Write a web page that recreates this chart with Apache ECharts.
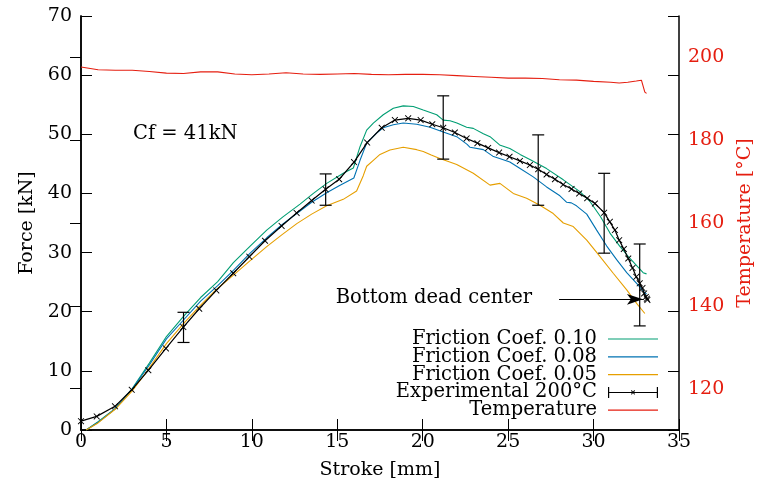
<!DOCTYPE html>
<html>
<head>
<meta charset="utf-8">
<script src="https://cdn.jsdelivr.net/npm/echarts@6/dist/echarts.min.js"></script>
<style>
html,body{margin:0;padding:0;background:#fff;}
#chart{width:763px;height:485px;}
</style>
</head>
<body>
<div id="chart"></div>
<script>
// ---- data (stroke [mm], value) ----
const xTicks = [0, 5, 10, 15, 20, 25, 30, 35];
const forceTicks = [0, 10, 20, 30, 40, 50, 60, 70];
const tempTicks = [120, 140, 160, 180, 200];

const coef010 = [[0.3,0],[1,1.4],[2,3.6],[3,7.0],[4,11.3],[5,15.8],[6,19.2],[7,22.4],[8,25.1],[8.92,28.3],[9.9,31.1],[10.87,33.8],[11.8,36.0],[12.82,38.2],[13.6,40.0],[14.38,41.7],[15.35,43.4],[15.94,44.3],[16.33,47.9],[16.72,50.7],[17.11,51.9],[17.69,53.3],[18.28,54.4],[18.86,54.8],[19.45,54.7],[20.03,54.1],[20.82,53.3],[21.2,52.4],[21.6,52.3],[22.0,51.9],[22.57,51.2],[22.96,51.0],[23.55,50.1],[23.94,49.6],[24.5,48.2],[25.1,47.6],[25.7,46.6],[26.3,45.7],[27.25,44.2],[28.23,42.3],[29.2,40.3],[29.8,38.6],[30.4,36.1],[30.96,33.3],[31.55,31.0],[32.13,29.0],[32.9,26.6],[33.1,26.4]];

const coef008 = [[0.3,0],[1,1.3],[2,3.6],[3,6.9],[4,11.0],[5,15.4],[6,18.6],[7,21.8],[8,24.4],[8.92,27.0],[9.9,29.9],[10.87,32.5],[11.8,34.8],[12.63,36.6],[13.5,38.5],[14.38,40.1],[15.11,41.3],[15.97,42.6],[16.33,45.6],[16.72,48.5],[17.3,50.2],[17.69,51.1],[18.28,51.6],[18.86,51.9],[19.65,51.7],[20.43,51.2],[21.2,50.4],[21.99,49.6],[22.6,48.3],[22.77,47.8],[23.55,47.4],[24.1,46.3],[24.5,45.9],[25.1,45.3],[25.7,44.2],[26.47,42.8],[27.25,41.1],[28.03,39.6],[28.43,38.5],[28.7,38.4],[29.0,37.9],[29.6,36.5],[30.18,33.8],[30.77,31.1],[31.35,28.8],[31.94,26.6],[32.52,24.8],[33.0,23.2],[33.1,23.0]];

const coef005 = [[0.3,0],[1,1.2],[2,3.5],[3,6.6],[4,10.5],[5,14.6],[6,18.0],[6.96,21.0],[7.94,23.8],[8.92,26.2],[9.85,28.5],[10.87,31.0],[11.75,33.0],[12.63,34.9],[13.5,36.5],[14.38,37.9],[15.35,39.0],[16.13,40.4],[16.52,43.0],[16.72,44.6],[17.11,45.6],[17.5,46.6],[18.08,47.35],[18.86,47.8],[19.65,47.4],[20.03,47.1],[20.5,46.5],[21.0,45.9],[21.5,45.4],[21.99,44.9],[22.96,43.4],[23.94,41.4],[24.52,41.7],[25.3,40.0],[26.08,39.2],[26.86,38.0],[27.64,36.6],[28.23,35.0],[28.81,34.4],[29.6,32.1],[30.38,29.3],[31.15,26.5],[31.94,23.7],[32.52,21.4],[33.0,19.7]];

const experimental = [[0.0,1.5],[0.92,2.3],[1.99,4.0],[2.97,6.8],[3.94,10.1],[4.97,13.8],[5.99,17.4],[6.92,20.5],[7.92,23.6],[8.91,26.5],[9.85,29.3],[10.77,32.0],[11.74,34.5],[12.62,36.7],[13.5,38.8],[14.32,40.7],[15.11,42.4],[15.98,45.3],[16.75,48.6],[17.6,51.1],[18.37,52.4],[19.15,52.7],[19.88,52.4],[20.56,51.7],[21.2,51.1],[21.88,50.3],[22.57,49.3],[23.2,48.5],[23.83,47.7],[24.47,46.9],[25.08,46.2],[25.69,45.5],[26.27,44.8],[26.76,44.1],[27.25,43.2],[27.74,42.4],[28.22,41.5],[28.71,40.75],[29.16,40.0],[29.63,39.2],[30.08,38.3],[30.62,36.75],[30.95,35.2],[31.25,33.8],[31.5,32.1],[31.77,30.6],[32.03,29.0],[32.28,27.4],[32.5,25.9],[32.7,24.8],[32.86,24.0],[32.96,23.1],[33.06,22.5],[33.12,22.2],[33.15,22.0]];

// error bars: [stroke, low, high]
const errorBars = [[6.0,14.8,19.9],[14.32,38.0,43.3],[21.2,45.8,56.5],[26.76,38.0,49.9],[30.62,29.9,43.4],[32.7,17.6,31.45]];

const temperature = [[0,197.7],[1,197.0],[2,196.9],[3,196.9],[4,196.6],[5,196.2],[6,196.1],[7,196.5],[8,196.5],[9,196.0],[10,195.8],[11,196.0],[12,196.3],[13,196.0],[14,195.9],[15,196.0],[16,196.1],[17,195.9],[18,195.8],[19,195.9],[20,195.9],[21,195.8],[22,195.6],[23,195.4],[24,195.2],[25,195.0],[26,195.0],[27,194.9],[28,194.6],[29,194.5],[30,194.2],[31,194.0],[31.5,193.8],[32,194.0],[32.5,194.3],[32.8,194.5],[33.0,191.6],[33.1,191.3]];

// annotation: bottom dead center arrow [start, end]
const bdcArrow = [[27.98,22.1],[32.89,22.1]];

const FONT = "'DejaVu Serif', serif";
const RED = '#e51e10';
const crossSymbol = 'path://M0,1 L1,0 L5,4 L9,0 L10,1 L6,5 L10,9 L9,10 L5,6 L1,10 L0,9 L4,5 Z';
const errIcon = 'path://M0,0H1.2V11H0Z M48.8,0H50V11H48.8Z M0,5H50V6H0Z M23,3.8L23.7,3.1L25,4.8L26.3,3.1L27,3.8L25.7,5.5L27,7.2L26.3,7.9L25,6.2L23.7,7.9L23,7.2L24.3,5.5Z';
const lineIcon = 'path://M0,0 M0,4.9H50V6.1H0Z M50,11';

const chart = echarts.init(document.getElementById('chart'));
const axisLineStyle = {color:'#000', width:1.5};
const tickStyle = {color:'#000', width:1};

chart.setOption({
  animation:false,
  backgroundColor:'#fff',
  textStyle:{fontFamily:FONT},
  grid:{left:81, right:84, top:16, bottom:55, containLabel:false},
  legend:{
    orient:'vertical', align:'right', right:105, top:329, padding:0,
    itemWidth:50, itemHeight:11, itemGap:-2.2,
    textStyle:{fontFamily:FONT, fontSize:19.5, color:'#000', padding:[0,6,0,0]},
    data:[
      {name:'Friction Coef. 0.10', icon:lineIcon},
      {name:'Friction Coef. 0.08', icon:lineIcon},
      {name:'Friction Coef. 0.05', icon:lineIcon},
      {name:'Experimental 200°C', icon:errIcon},
      {name:'Temperature', icon:lineIcon}
    ]
  },
  xAxis:[
    {type:'value', position:'bottom', min:0, max:35, interval:5,
     name:'Stroke [mm]', nameLocation:'middle', nameGap:31,
     nameTextStyle:{fontFamily:FONT, fontSize:19, color:'#000'},
     axisLine:{lineStyle:axisLineStyle}, axisTick:{inside:true, length:11, lineStyle:tickStyle},
     axisLabel:{fontFamily:FONT, fontSize:19, color:'#000', margin:3}, splitLine:{show:false}},
    {type:'value', position:'top', min:0, max:35, interval:5,
     axisLine:{lineStyle:axisLineStyle}, axisTick:{inside:true, length:11, lineStyle:tickStyle},
     axisLabel:{show:false}, splitLine:{show:false}}
  ],
  yAxis:[
    {type:'value', position:'left', min:0, max:70, interval:10,
     name:'Force [kN]', nameLocation:'middle', nameGap:44, nameRotate:90,
     nameTextStyle:{fontFamily:FONT, fontSize:19, color:'#000'},
     axisLine:{show:true, lineStyle:axisLineStyle}, axisTick:{show:true, inside:true, length:11, lineStyle:tickStyle},
     axisLabel:{fontFamily:FONT, fontSize:19, color:'#000', margin:9}, splitLine:{show:false}},
    {type:'value', position:'right', min:110, max:210,
     name:'Temperature [°C]', nameLocation:'middle', nameGap:57, nameRotate:90,
     nameTextStyle:{fontFamily:FONT, fontSize:19, color:RED},
     axisLine:{show:true, lineStyle:axisLineStyle},
     axisTick:{show:true, inside:true, length:11, lineStyle:tickStyle, customValues:tempTicks},
     axisLabel:{fontFamily:FONT, fontSize:19, color:RED, margin:9, customValues:tempTicks}, splitLine:{show:false}},
    {type:'value', position:'right', min:0, max:70, interval:10,
     axisLine:{show:true, lineStyle:axisLineStyle}, axisTick:{show:true, inside:true, length:11, lineStyle:tickStyle},
     axisLabel:{show:false}, splitLine:{show:false}}
  ],
  graphic:[
    {type:'text', left:133, top:124, style:{text:'Cf = 41kN', font:"19.5px 'DejaVu Serif'", fill:'#000'}},
    {type:'text', right:763-532, top:288, style:{text:'Bottom dead center', font:"19.5px 'DejaVu Serif'", fill:'#000'}}
  ],
  series:[
    {name:'Friction Coef. 0.10', type:'line', data:coef010, showSymbol:false, symbol:'none',
     lineStyle:{color:'#009e73', width:1.1}, itemStyle:{color:'#009e73'}},
    {name:'Friction Coef. 0.08', type:'line', data:coef008, showSymbol:false, symbol:'none',
     lineStyle:{color:'#0072b2', width:1.1}, itemStyle:{color:'#0072b2'}},
    {name:'Friction Coef. 0.05', type:'line', data:coef005, showSymbol:false, symbol:'none',
     lineStyle:{color:'#e69f00', width:1.1}, itemStyle:{color:'#e69f00'}},
    {name:'Experimental 200°C', type:'line', data:experimental, symbol:crossSymbol, symbolSize:6.5, showSymbol:true,
     lineStyle:{color:'#000', width:1.2}, itemStyle:{color:'#000'}, z:5,
     markLine:{silent:true, symbol:['none','arrow'], symbolSize:[8,16],
       lineStyle:{color:'#000', width:1, type:'solid'}, label:{show:false},
       data:[[{coord:bdcArrow[0]},{coord:bdcArrow[1]}]]}},
    {name:'Experimental 200°C', type:'custom', data:errorBars, z:6,
     encode:{x:0, y:[1,2]},
     renderItem:function(params, api){
       const x = api.value(0);
       const lo = api.coord([x, api.value(1)]);
       const hi = api.coord([x, api.value(2)]);
       const w = 6;
       const st = {stroke:'#000', lineWidth:1.2};
       return {type:'group', children:[
         {type:'line', shape:{x1:lo[0], y1:lo[1], x2:hi[0], y2:hi[1]}, style:st},
         {type:'line', shape:{x1:lo[0]-w, y1:lo[1], x2:lo[0]+w, y2:lo[1]}, style:st},
         {type:'line', shape:{x1:hi[0]-w, y1:hi[1], x2:hi[0]+w, y2:hi[1]}, style:st}
       ]};
     }},
    {name:'Temperature', type:'line', yAxisIndex:1, data:temperature, showSymbol:false, symbol:'none',
     lineStyle:{color:RED, width:1.1}, itemStyle:{color:RED}}
  ]
});
</script>
</body>
</html>
